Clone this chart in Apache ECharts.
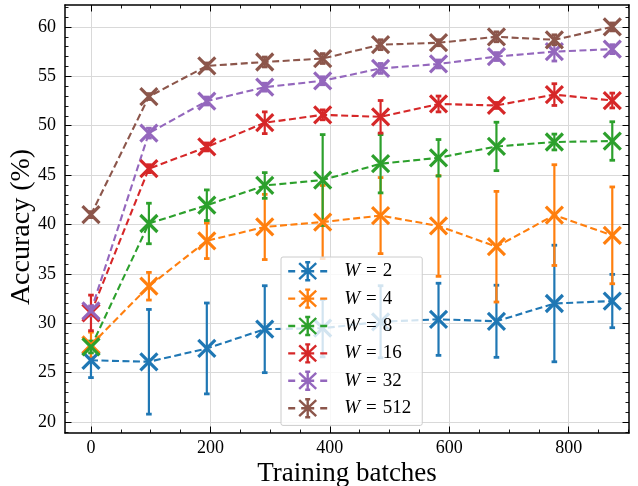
<!DOCTYPE html>
<html>
<head>
<meta charset="utf-8">
<script src="https://cdn.jsdelivr.net/npm/echarts@6/dist/echarts.min.js"></script>
<style>
html,body{margin:0;padding:0;background:#fff;}
#chart{width:638px;height:486px;}
</style>
</head>
<body>
<div id="chart"></div>
<script>
// ---- data ----
var batches = [0, 97, 194, 291, 388, 485, 582, 679, 776, 873];
var seriesNames = ['W = 2', 'W = 4', 'W = 8', 'W = 16', 'W = 32', 'W = 512'];
var accW2    = [26.25, 26.1, 27.45, 29.4, 29.5, 30.15, 30.4, 30.2, 32.0, 32.25];
var errW2    = [1.75, 5.3, 4.6, 4.4, 2.9, 3.65, 3.65, 3.65, 5.9, 2.7];
var accW4    = [27.8, 33.75, 38.35, 39.75, 40.25, 40.9, 39.85, 37.75, 40.95, 38.9];
var errW4    = [1.3, 1.4, 1.8, 3.3, 3.7, 3.85, 5.1, 5.6, 5.1, 4.9];
var accW8    = [27.6, 40.1, 41.95, 43.95, 44.5, 46.15, 46.75, 47.9, 48.35, 48.45];
var errW8    = [0.6, 2.05, 1.55, 1.3, 4.6, 2.95, 1.85, 2.45, 0.8, 1.95];
var accW16   = [31.05, 45.65, 47.85, 50.3, 51.1, 50.9, 52.2, 52.05, 53.15, 52.55];
var errW16   = [1.8, 0.4, 0.4, 1.1, 0.5, 1.65, 0.8, 0.3, 1.1, 0.75];
var accW32   = [31.25, 49.25, 52.5, 53.9, 54.55, 55.8, 56.25, 57.0, 57.5, 57.75];
var errW32   = [0.5, 0.5, 0.4, 0.4, 0.4, 0.5, 0.4, 0.4, 0.95, 0.45];
var accW512  = [41.0, 52.95, 56.05, 56.45, 56.8, 58.2, 58.4, 59.0, 58.7, 60.0];
var errW512  = [0.3, 0.3, 0.3, 0.5, 0.5, 0.5, 0.3, 0.5, 0.5, 0.4];
var xMajorTicks = [0, 200, 400, 600, 800];
var xMinorTicks = [50, 100, 150, 250, 300, 350, 450, 500, 550, 650, 700, 750, 850, 900];
var yMajorTicks = [20, 25, 30, 35, 40, 45, 50, 55, 60];
var yMinorTicks = [19, 21, 22, 23, 24, 26, 27, 28, 29, 31, 32, 33, 34, 36, 37, 38, 39,
                   41, 42, 43, 44, 46, 47, 48, 49, 51, 52, 53, 54, 56, 57, 58, 59, 61, 62];
var xLabel = 'Training batches';
var yLabel = 'Accuracy (%)';

var accs = [accW2, accW4, accW8, accW16, accW32, accW512];
var errs = [errW2, errW4, errW8, errW16, errW32, errW512];
var colors = ['#1f77b4', '#ff7f0e', '#2ca02c', '#d62728', '#9467bd', '#8c564b'];

var FONT = '"Liberation Serif", "DejaVu Serif", serif';
var X_MIN = -43.5, X_MAX = 901, Y_MIN = 18.89, Y_MAX = 62.22;

var chart = echarts.init(document.getElementById('chart'), null, {renderer: 'canvas'});

function errRender(params, api) {
  var x = api.value(0), y = api.value(1), e = api.value(2);
  var t = api.coord([x, y + e]);
  var b = api.coord([x, y - e]);
  var c = api.visual('color');
  var cw = 2.8;
  return {
    type: 'group',
    children: [
      {type: 'line', shape: {x1: t[0], y1: t[1], x2: b[0], y2: b[1]}, style: {stroke: c, lineWidth: 2.2}},
      {type: 'line', shape: {x1: t[0] - cw, y1: t[1], x2: t[0] + cw, y2: t[1]}, style: {stroke: c, lineWidth: 2.8}},
      {type: 'line', shape: {x1: b[0] - cw, y1: b[1], x2: b[0] + cw, y2: b[1]}, style: {stroke: c, lineWidth: 2.8}}
    ]
  };
}

var series = [];
for (var i = 0; i < seriesNames.length; i++) {
  var errData = [], lineData = [];
  for (var j = 0; j < batches.length; j++) {
    errData.push([batches[j], accs[i][j], errs[i][j]]);
    lineData.push([batches[j], accs[i][j]]);
  }
  series.push({
    type: 'custom',
    name: 'err ' + seriesNames[i],
    renderItem: errRender,
    data: errData,
    itemStyle: {color: colors[i]},
    encode: {x: 0, y: 1},
    silent: true,
    animation: false
  });
  series.push({
    type: 'line',
    name: seriesNames[i],
    data: lineData,
    symbol: 'path://M0,0L10,10M10,0L0,10',
    symbolSize: 17,
    showSymbol: true,
    lineStyle: {color: colors[i], width: 2.1, type: [7, 3.5]},
    itemStyle: {color: colors[i], borderColor: colors[i], borderWidth: 3.2},
    emphasis: {disabled: true},
    silent: true,
    animation: false
  });
}

var legendIcon = 'path://M0,9L7,9M13,9L26,9M32,9L39,9M11,1L28,17M28,1L11,17M19.5,0L19.5,18M17,0L22,0M17,18L22,18';

function axisCommon(extra) {
  var base = {
    type: 'value',
    axisLine: {show: true, onZero: false, lineStyle: {color: '#000', width: 1.5}},
    axisTick: {show: true, inside: true, length: 6.5, lineStyle: {color: '#000', width: 1}},
    axisLabel: {show: false},
    splitLine: {show: false},
    minorTick: {show: false},
    minorSplitLine: {show: false}
  };
  for (var k in extra) base[k] = extra[k];
  return base;
}
var hiddenLine = {show: false, onZero: false};
function majorTick(vals) {
  return {show: true, inside: true, length: 6.5, customValues: vals, lineStyle: {color: '#000', width: 1}};
}
function minorTickDef(vals) {
  return {show: true, inside: true, length: 3.5, customValues: vals, lineStyle: {color: '#000', width: 0.9}};
}

var option = {
  backgroundColor: '#fff',
  animation: false,
  grid: {left: 65, right: 9, top: 5, bottom: 53, containLabel: false, outerBoundsMode: 'none'},
  xAxis: [
    axisCommon({
      position: 'bottom', min: X_MIN, max: X_MAX,
      name: xLabel, nameLocation: 'middle', nameGap: 27, nameMoveOverlap: false,
      nameTextStyle: {fontFamily: FONT, fontSize: 27, color: '#000'},
      axisTick: majorTick(xMajorTicks),
      axisLabel: {show: true, customValues: xMajorTicks, fontFamily: FONT, fontSize: 18, color: '#000', margin: 6},
      splitLine: {show: true, lineStyle: {color: '#d9d9d9', width: 1}}
    }),
    axisCommon({position: 'bottom', min: X_MIN, max: X_MAX, axisLine: hiddenLine, axisTick: minorTickDef(xMinorTicks)}),
    axisCommon({position: 'top', min: X_MIN, max: X_MAX, axisTick: majorTick(xMajorTicks)}),
    axisCommon({position: 'top', min: X_MIN, max: X_MAX, axisLine: hiddenLine, axisTick: minorTickDef(xMinorTicks)})
  ],
  yAxis: [
    axisCommon({
      position: 'left', min: Y_MIN, max: Y_MAX,
      name: yLabel, nameLocation: 'middle', nameGap: 29, nameRotate: 90, nameMoveOverlap: false,
      nameTextStyle: {fontFamily: FONT, fontSize: 28, color: '#000', padding: [0, 16, 0, 0]},
      axisTick: majorTick(yMajorTicks),
      axisLabel: {show: true, customValues: yMajorTicks, fontFamily: FONT, fontSize: 18, color: '#000', margin: 9},
      splitLine: {show: true, lineStyle: {color: '#d9d9d9', width: 1}}
    }),
    axisCommon({position: 'left', min: Y_MIN, max: Y_MAX, axisLine: hiddenLine, axisTick: minorTickDef(yMinorTicks)}),
    axisCommon({position: 'right', min: Y_MIN, max: Y_MAX, axisTick: majorTick(yMajorTicks)}),
    axisCommon({position: 'right', min: Y_MIN, max: Y_MAX, axisLine: hiddenLine, axisTick: minorTickDef(yMinorTicks)})
  ],
  legend: {
    orient: 'vertical',
    left: 281, top: 257,
    padding: [4, 11, 7, 6],
    itemWidth: 39, itemHeight: 18, itemGap: 7,
    backgroundColor: 'rgba(255,255,255,0.8)',
    borderColor: '#cccccc', borderWidth: 1, borderRadius: 2,
    selectedMode: false,
    z: 10,
    data: seriesNames.map(function (n, k) {
      return {name: n, icon: legendIcon,
              itemStyle: {color: 'transparent', borderColor: colors[k], borderWidth: 2.4}};
    }),
    formatter: function (n) {
      var parts = n.split(' = ');
      return '{w|' + parts[0] + '}{e|=}{t|' + parts[1] + '}';
    },
    textStyle: {
      fontFamily: FONT, fontSize: 19, color: '#000', lineHeight: 18,
      rich: {
        w: {fontFamily: FONT, fontSize: 19, fontStyle: 'italic', color: '#000', lineHeight: 18, padding: [0, 0, 0, 12]},
        e: {fontFamily: FONT, fontSize: 19, color: '#000', lineHeight: 18, padding: [0, 6, 0, 6]},
        t: {fontFamily: FONT, fontSize: 19, color: '#000', lineHeight: 18}
      }
    }
  },
  series: series
};
chart.setOption(option);
</script>
</body>
</html>
